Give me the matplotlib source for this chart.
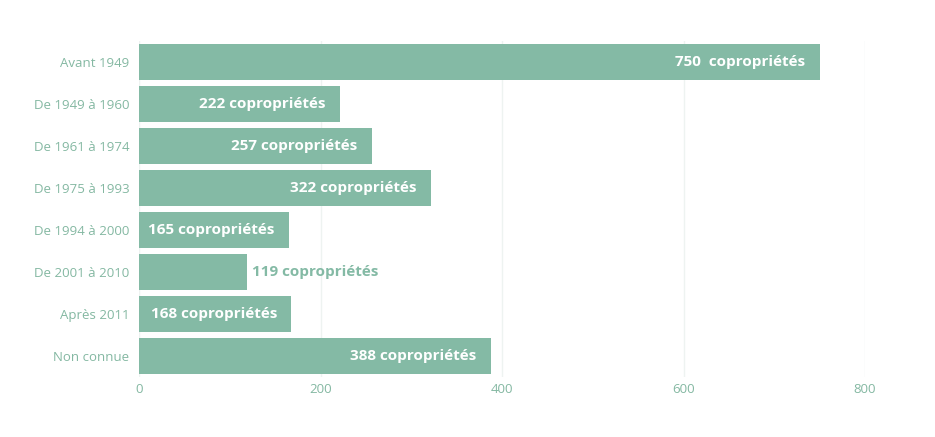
import matplotlib
matplotlib.use("Agg")
import matplotlib.pyplot as plt

# Data
categories = ["Avant 1949", "De 1949 à 1960", "De 1961 à 1974", "De 1975 à 1993",
              "De 1994 à 2000", "De 2001 à 2010", "Après 2011", "Non connue"]
values = [750, 222, 257, 322, 165, 119, 168, 388]
labels = ["750  copropriétés", "222 copropriétés", "257 copropriétés", "322 copropriétés",
          "165 copropriétés", "119 copropriétés", "168 copropriétés", "388 copropriétés"]
inside = [True, True, True, True, True, False, True, True]
xticks = [0, 200, 400, 600, 800]

bar_color = "#84baa5"
tick_color = "#84b8a2"
grid_color = "#eef3f1"

fig = plt.figure(figsize=(9.35, 4.37), dpi=100)
ax = fig.add_axes([139 / 935, 1 - 377 / 437, 726 / 935, 336 / 437])

ypos = list(range(len(categories)))
ax.barh(ypos, values, height=0.86, color=bar_color, zorder=2)

ax.set_xlim(0, 800)
ax.set_ylim(len(categories) - 0.5, -0.5)
ax.set_xticks(xticks)
ax.set_xticklabels([str(t) for t in xticks])
ax.set_yticks(ypos)
ax.set_yticklabels(categories)

for side in ["top", "right", "bottom", "left"]:
    ax.spines[side].set_visible(False)
ax.tick_params(axis="both", length=0, colors=tick_color, labelsize=9.5)
ax.tick_params(axis="y", pad=7)
ax.tick_params(axis="x", pad=4)
for t in ax.get_xticklabels() + ax.get_yticklabels():
    t.set_fontfamily("Open Sans")
ax.xaxis.grid(True, color=grid_color, linewidth=1, zorder=0)
ax.set_axisbelow(True)

# value labels
for y, v, lab, ins in zip(ypos, values, labels, inside):
    if ins:
        ax.annotate(lab, (v, y), xytext=(-10.5, 0), textcoords="offset points",
                    ha="right", va="center", color="white", fontsize=11,
                    fontweight="bold", fontfamily="Open Sans", zorder=3)
    else:
        ax.annotate(lab, (v, y), xytext=(3.5, 0), textcoords="offset points",
                    ha="left", va="center", color=bar_color, fontsize=11,
                    fontweight="bold", fontfamily="Open Sans", zorder=3)

fig.savefig("out.png", dpi=100, facecolor="white")
